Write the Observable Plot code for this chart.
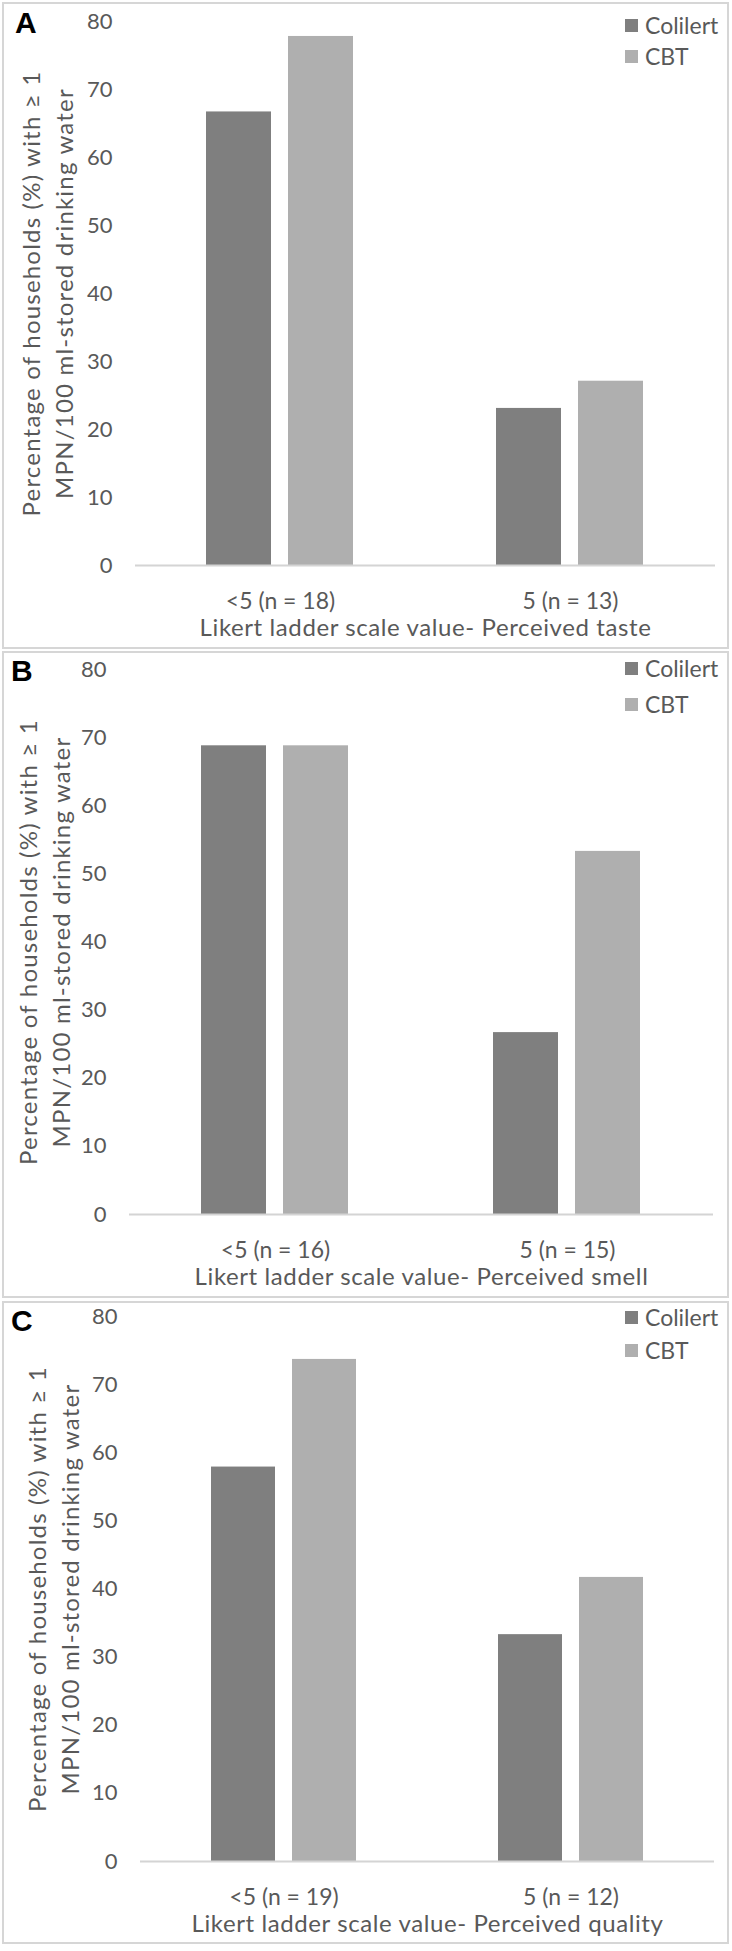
<!DOCTYPE html>
<html><head><meta charset="utf-8">
<script src="https://cdn.jsdelivr.net/npm/d3@7"></script>
<script src="https://cdn.jsdelivr.net/npm/@observablehq/plot@0.6"></script>
<style>
body{margin:0;background:#fff}
#page{position:relative;width:732px;height:1951px;overflow:hidden;background:#fff}
.panel{position:absolute;left:2px;width:727px;border:2px solid #d6d6d6;box-sizing:border-box}
.chart{position:absolute;left:0}
.letter{position:absolute;font-family:"Liberation Sans",Arial,sans-serif;font-weight:bold;font-size:30px;line-height:30px;color:#000}
.item{position:absolute;left:625px;height:22px;display:flex;align-items:center;font-family:Lato,sans-serif;font-size:23px;line-height:22px;color:#595959}
.sw{width:13px;height:13px;margin-right:7px}
</style></head>
<body><div id="page"></div>
<script>
const series = ["Colilert", "CBT"];
const seriesColors = ["#7f7f7f", "#afafaf"];
const yTicks = [0, 10, 20, 30, 40, 50, 60, 70, 80];
const yTitle = "Percentage of households (%) with \u2265 1\nMPN/100 ml-stored drinking water";

const tasteCategories = ["<5 (n = 18)", "5 (n = 13)"];
const tasteColilert = [66.7, 23.1];
const tasteCBT = [77.8, 27.1];
const tasteTitle = "Likert ladder scale value- Perceived taste";

const smellCategories = ["<5 (n = 16)", "5 (n = 15)"];
const smellColilert = [68.8, 26.7];
const smellCBT = [68.8, 53.3];
const smellTitle = "Likert ladder scale value- Perceived smell";

const qualityCategories = ["<5 (n = 19)", "5 (n = 12)"];
const qualityColilert = [57.9, 33.3];
const qualityCBT = [73.7, 41.7];
const qualityTitle = "Likert ladder scale value- Perceived quality";

const panels = [
  {letter: "A", cats: tasteCategories, a: tasteColilert, b: tasteCBT, title: tasteTitle,
   top: 0, height: 648, mt: 21, mb: 83, ml: 135, mr: 17, ydx: -90,
   box: [2, 647], letterPos: [15, 8], legend: [14, 45]},
  {letter: "B", cats: smellCategories, a: smellColilert, b: smellCBT, title: smellTitle,
   top: 650, height: 648, mt: 19, mb: 84, ml: 129, mr: 19, ydx: -87,
   box: [651, 647], letterPos: [11, 656], legend: [657, 693]},
  {letter: "C", cats: qualityCategories, a: qualityColilert, b: qualityCBT, title: qualityTitle,
   top: 1300, height: 648, mt: 16, mb: 87, ml: 140, mr: 18, ydx: -89,
   box: [1301, 643], letterPos: [11, 1306], legend: [1306, 1339]}
];

const page = document.getElementById("page");

for (const p of panels) {
  const box = document.createElement("div");
  box.className = "panel";
  box.style.top = p.box[0] + "px";
  box.style.height = p.box[1] + "px";
  page.appendChild(box);

  const rows = [];
  p.cats.forEach((c, i) => {
    rows.push({category: c, series: series[0], value: p.a[i]});
    rows.push({category: c, series: series[1], value: p.b[i]});
  });

  const chart = Plot.plot({
    width: 732,
    height: p.height,
    marginTop: p.mt,
    marginBottom: p.mb,
    marginLeft: p.ml,
    marginRight: p.mr,
    style: {fontFamily: "Lato, sans-serif", fontSize: "22px", color: "#595959", background: "transparent", overflow: "visible"},
    fx: {domain: p.cats, padding: 0, axis: null},
    x: {domain: series, paddingInner: 0.207, paddingOuter: 0.87, axis: null},
    y: {domain: [0, 80]},
    color: {domain: series, range: seriesColors},
    marks: [
      Plot.axisY({ticks: yTicks, tickSize: 0, tickPadding: 23, label: null, fill: "#595959"}),
      Plot.barY(rows, {fx: "category", x: "series", y: "value", fill: "series"}),
      Plot.ruleY([0], {stroke: "#d4d4d4", strokeWidth: 2}),
      Plot.text(p.cats, {fx: (d) => d, text: (d) => d, frameAnchor: "bottom", lineAnchor: "middle", dy: 36, fill: "#595959", fontSize: 23}),
      Plot.text([{category: p.cats[0], label: p.title}], {
        fx: "category", text: "label", frameAnchor: "bottom-right", textAnchor: "middle", lineAnchor: "middle",
        dy: 63, fill: "#595959", fontSize: 24
      }),
      Plot.text([{category: p.cats[0], label: yTitle}], {
        fx: "category", text: "label", frameAnchor: "left", textAnchor: "middle", lineAnchor: "middle",
        rotate: -90, dx: p.ydx, lineHeight: 1.375, fill: "#595959", fontSize: 24
      })
    ]
  });
  chart.classList.add("chart");
  chart.style.top = p.top + "px";
  for (const t of chart.querySelectorAll("text")) {
    const s = t.textContent;
    if (s.startsWith("Percentage")) t.setAttribute("letter-spacing", "1.2");
    else if (s.startsWith("Likert")) t.setAttribute("letter-spacing", "0.6");
  }
  page.appendChild(chart);

  const L = document.createElement("div");
  L.className = "letter";
  L.textContent = p.letter;
  L.style.left = p.letterPos[0] + "px";
  L.style.top = p.letterPos[1] + "px";
  page.appendChild(L);

  series.forEach((s, i) => {
    const it = document.createElement("div");
    it.className = "item";
    it.style.top = p.legend[i] + "px";
    const sw = document.createElement("div");
    sw.className = "sw";
    sw.style.background = seriesColors[i];
    it.appendChild(sw);
    it.appendChild(document.createTextNode(s));
    page.appendChild(it);
  });
}
</script></body></html>
